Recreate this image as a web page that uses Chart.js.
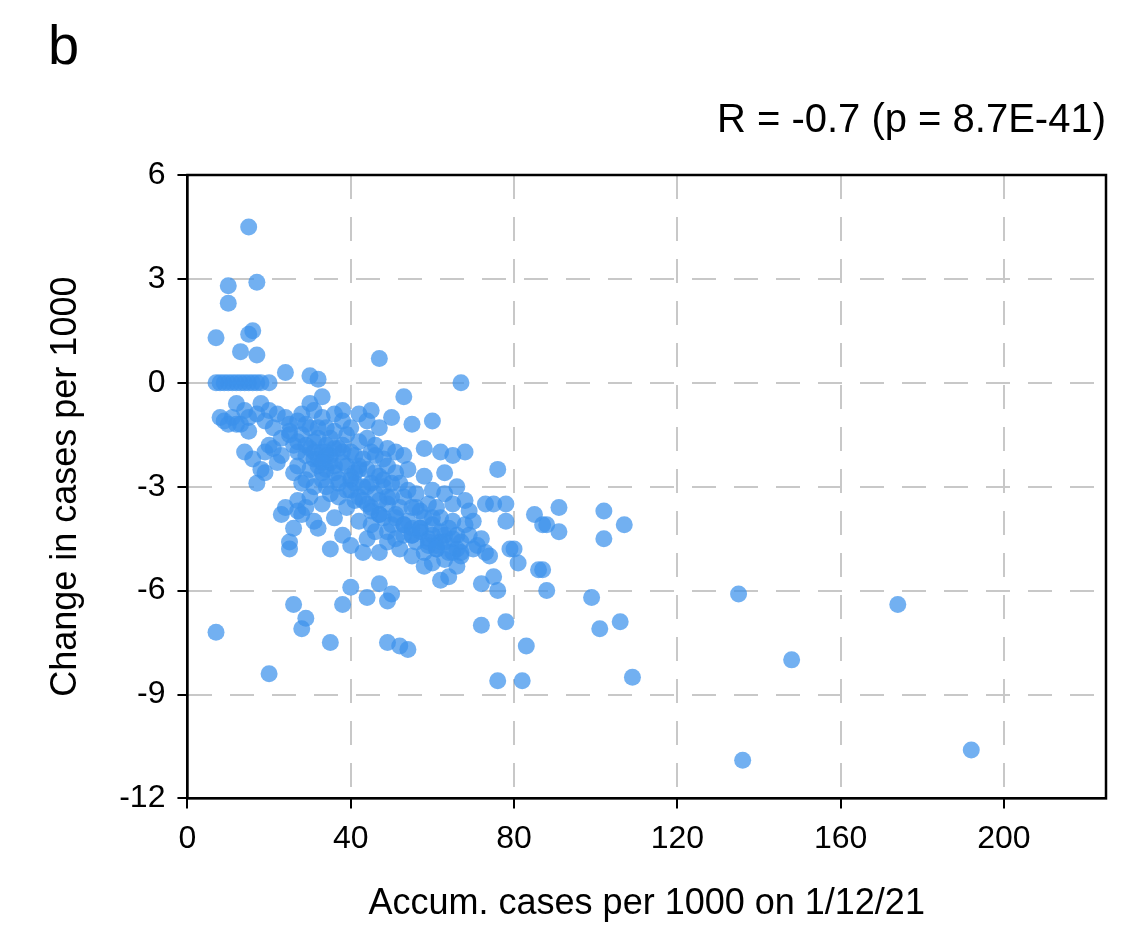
<!DOCTYPE html>
<html><head><meta charset="utf-8">
<script src="https://cdn.jsdelivr.net/npm/chart.js@4/dist/chart.umd.min.js"></script>
<style>html,body{margin:0;background:#fff}#w{position:relative;width:1128px;height:943px}
#b{position:absolute;left:48px;top:12px;font:56px "Liberation Sans",Arial,sans-serif}
</style></head><body><div id="w"><div id="b">b</div><canvas id="c" width="1128" height="943"></canvas></div>
<script>
const xTicks=[0,40,80,120,160,200];
const yTicks=[6,3,0,-3,-6,-9,-12];
const accumCases=[15,10,17,10,16,15,7,13,17,47,67,7,8,9,10,11,12,13,14,15,16,17,18,20,24,30,32,7,20,26,28,29,35,38,40,44,47,49,50,49,52,54,76,82,83,78,72,76,88,99,101,106,109,135,136,148,174,192,102,102,107,91,91,85,87,88,86,87,81,79,80,78,76,78,73,75,72,71,73,74,75,72,68,65,62,60,58,55,53,50,45,38,56,60,62,63,65,68,69,67,65,63,62,60,58,57,55,53,52,54,58,60,63,66,68,70,66,
8,9,11,12,13,14,15,17,18,19,20,21,22,23,24,25,26,27,28,29,30,31,32,33,34,35,36,37,38,39,40,41,42,43,44,45,46,47,48,49,50,51,14,16,17,18,19,20,22,23,24,25,25,26,27,28,27,29,30,31,32,33,34,35,36,37,38,39,40,41,42,43,44,45,46,47,48,49,50,52,53,54,55,56,58,59,60,61,62,64,65,66,64,28,30,31,33,34,36,26,27,28,29,30,31,32,33,34,35,36,37,38,39,40,41,42,43,44,45,46,47,48,49,50,51,52,53,54,55,56,57,58,59,60,61,62,63,64,66,67,69,70,40,42,44,46,48,35,33,31,29,27,25,23,21,19,15,12,10,46,47,49,51,44,42,40,38,36,34,32,
30,32,34,36,38,40,42,44,33,35,37,39,41,43,45,47,49,51,53,55,57,59,61,63,65,67,45,47,49,51,53,55,57,59,61,25,27,29,31,33];
const changeCases=[4.5,2.8,2.9,2.3,1.5,1.4,1.3,0.9,0.8,0.7,0,0,0,0,0,0,0,0,0,0,0,0,0,0,0.3,0.2,0.1,-7.2,-8.4,-6.4,-7.1,-6.8,-7.5,-6.4,-5.9,-6.2,-5.8,-6.3,-6.1,-7.5,-7.6,-7.7,-8.6,-8.6,-7.6,-6.9,-7.0,-6.0,-6.0,-6.2,-7.1,-6.9,-8.5,-6.1,-10.9,-8.0,-6.4,-10.6,-3.7,-4.5,-4.1,-3.6,-4.3,-3.8,-4.1,-4.1,-5.4,-5.4,-5.2,-4.8,-4.8,-3.5,-2.5,-4.0,-3.5,-3.5,-4.5,-4.7,-4.9,-5.0,-5.6,-5.8,-2.0,-2.1,-2.0,-1.1,-1.9,-1.2,-0.4,-1.0,-0.8,-0.8,-3.6,-3.9,-3.9,-4.4,-4.0,-3.4,-3.7,-4.6,-4.9,-5.1,-5.7,-5.2,-4.9,-4.3,-3.6,-3.3,-2.9,-2.5,-2.7,-3.1,-2.6,-3.0,-4.1,-4.8,-5.3,
-1.0,-1.1,-1.0,-0.6,-1.2,-0.8,-1.4,-0.9,-0.6,-1.1,-0.8,-1.3,-0.9,-1.6,-1.0,-1.2,-1.8,-1.1,-1.5,-2.1,-1.3,-1.7,-2.4,-1.0,-2.0,-1.6,-2.6,-1.9,-2.3,-1.5,-2.8,-2.1,-1.7,-3.0,-2.5,-2.0,-3.2,-2.7,-2.2,-3.5,-2.9,-3.8,-2.0,-2.2,-2.9,-2.5,-2.0,-1.8,-2.3,-3.8,-3.6,-4.6,-4.8,-4.2,-3.4,-3.8,-3.7,-2.8,-3.3,-4.0,-4.2,-3.5,-3.0,-4.8,-3.9,-3.3,-4.4,-3.6,-4.7,-3.4,-4.0,-4.9,-4.5,-3.7,-4.3,-4.9,-3.9,-4.6,-4.1,-4.8,-4.4,-4.0,-5.0,-4.6,-5.3,-4.7,-4.4,-4.8,-4.3,-4.9,-3.5,-4.4,-5.6,-0.9,-0.6,-0.8,-0.4,-1.3,-0.9,-2.6,-2.0,-2.9,-1.2,-2.5,-2.2,-1.6,-2.8,-2.5,-2.1,-1.4,-2.9,-1.8,-2.4,-2.0,-2.6,-2.4,-2.2,-1.6,-2.9,-2.1,-3.4,-3.0,-2.4,-3.3,-2.6,-3.6,-2.1,-3.1,-4.2,-3.2,-3.7,-3.9,-3.5,-4.1,-3.6,-4.6,-3.2,-4.2,-4.8,-5.0,-4.4,-4.0,-3.1,-3.3,-3.5,-2.6,-2.8,-3.2,-2.0,-3.0,-3.6,-2.4,-1.5,-2.1,-1.9,-2.6,-1.0,-1.2,-1.2,-1.8,-1.3,-1.9,-2.0,-1.1,-0.9,-1.3,-1.1,-1.9,-1.8,-1.3,
-1.9,-2.2,-2.1,-2.4,-2.0,-2.7,-2.5,-3.0,-2.6,-2.3,-2.8,-3.1,-2.9,-3.4,-3.6,-3.8,-3.3,-3.9,-4.1,-4.4,-4.2,-4.5,-4.7,-4.6,-4.5,-4.9,-4.1,-3.8,-4.3,-4.5,-4.1,-4.4,-4.2,-4.6,-4.8,-1.4,-1.7,-1.8,-2.0,-2.3];
const pts=accumCases.map((x,i)=>({x,y:changeCases[i]}));
const F='"Liberation Sans",Arial,sans-serif';
new Chart(document.getElementById('c'),{type:'scatter',
data:{datasets:[{data:pts,backgroundColor:'rgba(60,145,235,0.72)',borderWidth:0,pointRadius:8.5}]},
options:{responsive:false,animation:false,
layout:{padding:{left:40,right:22,top:97,bottom:13}},
plugins:{legend:{display:false},tooltip:{enabled:false},
title:{display:true,text:'R = -0.7 (p = 8.7E-41)',align:'end',color:'#000',font:{family:F,size:40,weight:'normal'},padding:{bottom:30}}},
scales:{
x:{type:'linear',min:0,max:225,afterBuildTicks:a=>{a.ticks=xTicks.map(v=>({value:v}))},
ticks:{color:'#000',font:{family:F,size:32},padding:12},
grid:{color:'#c8c8c8',lineWidth:2,drawTicks:true,tickLength:10,tickColor:'#000',tickWidth:2},
border:{color:'#000',width:2,dash:[24,18]},
title:{display:true,text:'Accum. cases per 1000 on 1/12/21',color:'#000',font:{family:F,size:36},padding:{top:12}}},
y:{type:'linear',min:-12,max:6,afterBuildTicks:a=>{a.ticks=yTicks.map(v=>({value:v}))},
ticks:{color:'#000',font:{family:F,size:32},padding:12},
grid:{color:'#c8c8c8',lineWidth:2,tickLength:10,tickColor:'#000',tickWidth:2},
border:{color:'#000',width:2,dash:[24,18]},
title:{display:true,text:'Change in cases per 1000',color:'#000',font:{family:F,size:36},padding:{bottom:20}}}}},
plugins:[{id:'frame',afterDraw(c){const a=c.chartArea,x=c.ctx;x.save();x.strokeStyle='#000';x.lineWidth=2.5;x.setLineDash([]);x.strokeRect(a.left,a.top,a.right-a.left,a.bottom-a.top);x.restore();}}]
});
</script></body></html>
